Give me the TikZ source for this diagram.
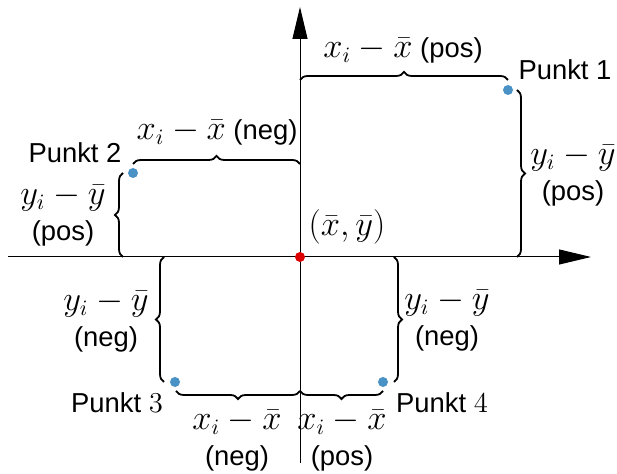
\documentclass[tikz,border=0pt]{standalone}
\usepackage{fontspec}
\setmainfont{Liberation Sans}
\usetikzlibrary{arrows.meta,decorations.pathreplacing}
\definecolor{ptblue}{RGB}{74,146,198}
\definecolor{ptred}{RGB}{220,0,0}
\newcommand{\mathlbl}[1]{{\fontsize{16}{18}\selectfont$#1$}}
\tikzset{
  brc/.style={decorate, decoration={brace, amplitude=4pt}, line width=0.9pt},
  axis/.style={line width=0.5pt, -{Triangle[length=16pt,width=7.5pt]}},
  pt/.style={circle, fill=ptblue, inner sep=0pt, minimum size=5pt},
  lbl/.style={align=center, inner sep=0pt},
}
\begin{document}
\begin{tikzpicture}[x=0.5pt, y=-0.5pt, font=\fontsize{13.7}{18}\selectfont]
\useasboundingbox (0,0) rectangle (617,474);
% Axes
\coordinate (xl) at (8,257);
\coordinate (xr) at (591,257);
\coordinate (yb) at (300,463);
\coordinate (yt) at (300,7);
\draw[axis] (xl) -- (xr);
\draw[axis] (yb) -- (yt);
% Mean point
\node[circle, fill=ptred, inner sep=0pt, minimum size=5pt] (O) at (300,257) {};
\node[lbl] (Olbl) at (347,227) {\mathlbl{(\bar{x},\bar{y})}};
% Points
\node[pt] (P1) at (508,90) {};
\node[pt] (P2) at (133,173) {};
\node[pt] (P3) at (175,382) {};
\node[pt] (P4) at (383,382) {};
\node[lbl] (P1lbl) at (565,70) {Punkt 1};
\node[lbl] (P2lbl) at (75,153) {Punkt 2};
\node[lbl] (P3lbl) at (117,403) {Punkt {\fontsize{14.5}{18}\selectfont$3$}};
\node[lbl] (P4lbl) at (442,403) {Punkt {\fontsize{14.5}{18}\selectfont$4$}};
% Punkt 1
\draw[brc] (300,80) -- (508,80);
\node[lbl] (d1x) at (403,50) {\mathlbl{x_i-\bar{x}} (pos)};
\draw[brc] (517,90) -- (517,257);
\node[lbl] (d1y) at (573,175) {\mathlbl{y_i-\bar{y}}\\(pos)};
% Punkt 2
\draw[brc] (133,164) -- (300,164);
\node[lbl] (d2x) at (217,132) {\mathlbl{x_i-\bar{x}} (neg)};
\draw[brc] (123,257) -- (123,173);
\node[lbl] (d2y) at (63,215) {\mathlbl{y_i-\bar{y}}\\(pos)};
% Punkt 3
\draw[brc] (164,382) -- (164,257);
\node[lbl] (d3y) at (106,321) {\mathlbl{y_i-\bar{y}}\\(neg)};
\draw[brc] (300,391) -- (176,391);
\node[lbl] (d3x) at (237,440) {\mathlbl{x_i-\bar{x}}\\(neg)};
% Punkt 4
\draw[brc] (394,257) -- (394,382);
\node[lbl] (d4y) at (447,320) {\mathlbl{y_i-\bar{y}}\\(neg)};
\draw[brc] (383,391) -- (300,391);
\node[lbl] (d4x) at (342,440) {\mathlbl{x_i-\bar{x}}\\(pos)};
\end{tikzpicture}
\end{document}
